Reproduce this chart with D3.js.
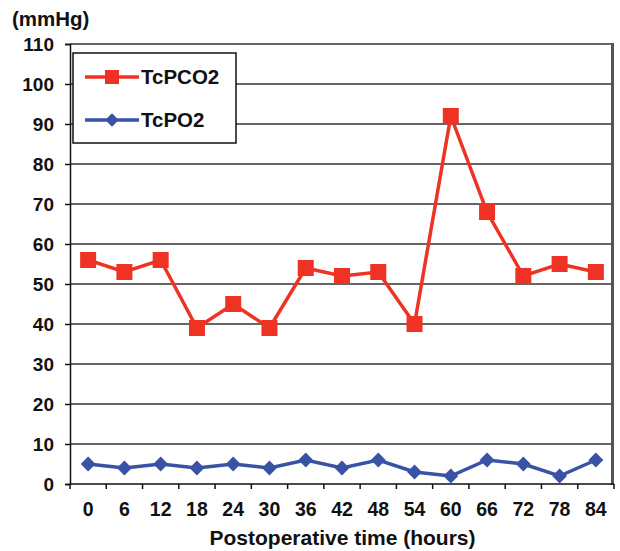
<!DOCTYPE html>
<html>
<head>
<meta charset="utf-8">
<script src="https://cdn.jsdelivr.net/npm/d3@7"></script>
<style>
  body { margin: 0; background: #fff; }
  text { font-family: Arial, "Liberation Sans", sans-serif; font-weight: bold; fill: #111; }
</style>
</head>
<body>
<div id="chart"></div>
<script>
const hours = [0, 6, 12, 18, 24, 30, 36, 42, 48, 54, 60, 66, 72, 78, 84];
const tcpco2 = [56, 53, 56, 39, 45, 39, 54, 52, 53, 40, 92, 68, 52, 55, 53];
const tcpo2 = [5, 4, 5, 4, 5, 4, 6, 4, 6, 3, 2, 6, 5, 2, 6];
const yTicks = [0, 10, 20, 30, 40, 50, 60, 70, 80, 90, 100, 110];
const seriesNames = ["TcPCO2", "TcPO2"];

const width = 620, height = 551;
const margin = {top: 44, right: 5, bottom: 67, left: 70};
const red = "#ee3224", blue = "#3852a6";

const svg = d3.select("#chart").append("svg")
    .attr("width", width)
    .attr("height", height);

let x = d3.scaleBand()
    .domain(hours)
    .range([margin.left, width - margin.right - 1]);

let y = d3.scaleLinear()
    .domain([0, 110])
    .range([height - margin.bottom, margin.top]);

// gridlines
svg.append("g")
    .selectAll("line")
    .data(yTicks.slice(1))
    .join("line")
    .attr("x1", margin.left)
    .attr("x2", width - margin.right - 1)
    .attr("y1", d => y(d))
    .attr("y2", d => y(d))
    .style("stroke", "#333")
    .style("stroke-width", 1.5);

// right border of plot area
svg.append("line")
    .attr("x1", width - margin.right - 2.5)
    .attr("x2", width - margin.right - 2.5)
    .attr("y1", y(110) - 1)
    .attr("y2", y(0) + 1)
    .style("stroke", "#555")
    .style("stroke-width", 3);

// y axis
let yAxis = svg.append("g")
    .attr("transform", "translate(" + margin.left + ",0)")
    .call(d3.axisLeft(y).tickValues(yTicks).tickSize(5).tickPadding(11));
yAxis.select(".domain").style("stroke", "#111").style("stroke-width", 1.5);
yAxis.selectAll(".tick line").style("stroke", "#111").style("stroke-width", 1.5);
yAxis.selectAll("text").style("font-size", "19px").attr("dy", "0.35em");

// x axis, ticks between categories
let xAxis = svg.append("g")
    .attr("transform", "translate(0," + y(0) + ")");
xAxis.append("line")
    .attr("x1", margin.left)
    .attr("x2", width - margin.right - 1)
    .style("stroke", "#111")
    .style("stroke-width", 1.5);
xAxis.selectAll(".tk")
    .data(hours.concat(["end"]))
    .join("line")
    .attr("class", "tk")
    .attr("x1", (d, i) => margin.left + i * x.step())
    .attr("x2", (d, i) => margin.left + i * x.step())
    .attr("y1", 0)
    .attr("y2", 5)
    .style("stroke", "#111")
    .style("stroke-width", 1.5);
xAxis.selectAll("text")
    .data(hours)
    .join("text")
    .attr("x", d => x(d) + x.bandwidth() / 2)
    .attr("y", 25)
    .attr("dy", "0.35em")
    .attr("text-anchor", "middle")
    .style("font-size", "19.5px")
    .text(d => d);

// axis titles
svg.append("text")
    .attr("x", 12)
    .attr("y", 26)
    .style("font-size", "20.5px")
    .text("(mmHg)");

svg.append("text")
    .attr("x", (margin.left + width - margin.right) / 2)
    .attr("y", 545)
    .attr("text-anchor", "middle")
    .style("font-size", "21px")
    .text("Postoperative time (hours)");

const cx = d => x(d) + x.bandwidth() / 2;

// TcPO2
let lineBlue = d3.line()
    .x((d, i) => cx(hours[i]))
    .y(d => y(d));
svg.append("path")
    .datum(tcpo2)
    .attr("d", lineBlue)
    .style("fill", "none")
    .style("stroke", blue)
    .style("stroke-width", 3.5);
svg.append("g")
    .selectAll("path")
    .data(tcpo2)
    .join("path")
    .attr("d", d3.symbol(d3.symbolSquare, 110))
    .attr("transform", (d, i) => "translate(" + cx(hours[i]) + "," + y(d) + ") rotate(45)")
    .style("fill", blue);

// TcPCO2
let lineRed = d3.line()
    .x((d, i) => cx(hours[i]))
    .y(d => y(d));
svg.append("path")
    .datum(tcpco2)
    .attr("d", lineRed)
    .style("fill", "none")
    .style("stroke", red)
    .style("stroke-width", 3.5);
svg.append("g")
    .selectAll("rect")
    .data(tcpco2)
    .join("rect")
    .attr("x", (d, i) => cx(hours[i]) - 8)
    .attr("y", d => y(d) - 8)
    .attr("width", 16)
    .attr("height", 16)
    .style("fill", red);

// legend
let legend = svg.append("g").attr("transform", "translate(73,53)");
legend.append("rect")
    .attr("width", 163)
    .attr("height", 90)
    .style("fill", "white")
    .style("stroke", "#111")
    .style("stroke-width", 1.5);

seriesNames.forEach(function (name, i) {
    let ly = i === 0 ? 24 : 67;
    let col = i === 0 ? red : blue;
    legend.append("line")
        .attr("x1", 12).attr("x2", 66)
        .attr("y1", ly).attr("y2", ly)
        .style("stroke", col)
        .style("stroke-width", 3.5);
    if (i === 0) {
        legend.append("rect")
            .attr("x", 32).attr("y", ly - 7)
            .attr("width", 14).attr("height", 14)
            .style("fill", col);
    } else {
        legend.append("path")
            .attr("d", d3.symbol(d3.symbolSquare, 90))
            .attr("transform", "translate(39," + ly + ") rotate(45)")
            .style("fill", col);
    }
    legend.append("text")
        .attr("x", 68)
        .attr("y", ly)
        .attr("dy", "0.35em")
        .style("font-size", "20.5px")
        .text(name);
});
</script>
</body>
</html>
